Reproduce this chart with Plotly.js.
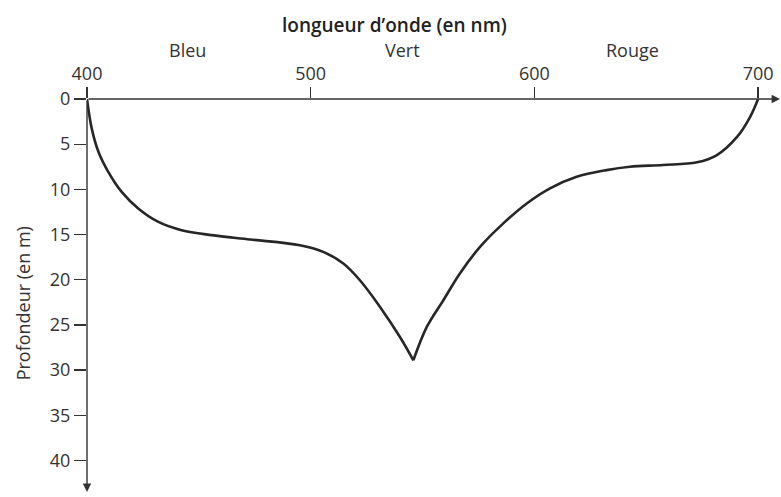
<!DOCTYPE html>
<html>
<head>
<meta charset="utf-8">
<script src="https://cdn.plot.ly/plotly-3.0.1.min.js"></script>
<style>html,body{margin:0;padding:0;background:#fff;}#chart{width:781px;height:497px;}</style>
</head>
<body>
<div id="chart"></div>
<script>
// Wavelength (nm) and depth reached by light (m)
const wavelength = [400, 402.1, 405.1, 409.5, 415.5, 422.9, 431.9, 442.3, 455.7, 472.9, 495.2, 505.6,
                    514.6, 522.0, 531.0, 539.9, 545.9,
                    551.9, 559.3, 566.7, 575.7, 586.1, 596.6, 607.0, 618.9, 632.3, 642.7, 657.5,
                    672.7, 681.6, 690.6, 696.4, 700];
const depth = [0, 3.25, 5.84, 8.06, 10.28, 12.11, 13.60, 14.52, 15.07, 15.55, 16.18, 16.92,
               18.21, 20.06, 23.01, 26.34, 28.92,
               25.23, 22.27, 19.31, 16.37, 13.77, 11.56, 9.89, 8.61, 7.87, 7.5, 7.3,
               7.0, 6.2, 4.2, 2.0, 0];
const xTicks = [400, 500, 600, 700];
const yTicks = [0, 5, 10, 15, 20, 25, 30, 35, 40];
const colourNames = ['Bleu', 'Vert', 'Rouge'];
const colourNameX = [445, 541, 644];

const font = 'Open Sans, Noto Sans, sans-serif';
const ink = '#333333';
const xMax = 709.8, yMax = 43.5;

// split at the deepest point so the cusp stays sharp
const iMin = depth.indexOf(Math.max(...depth));
const lineStyle = {color: '#262626', width: 2.6, shape: 'spline', smoothing: 1};
const traces = [
  {x: wavelength.slice(0, iMin + 1), y: depth.slice(0, iMin + 1)},
  {x: wavelength.slice(iMin), y: depth.slice(iMin)}
].map(t => Object.assign(t, {mode: 'lines', type: 'scatter', line: lineStyle,
  hoverinfo: 'skip', showlegend: false, cliponaxis: false}));

const annotations = [];
// axis arrows
annotations.push({x: xMax, y: 0, ax: 400, ay: 0, xref: 'x', yref: 'y', axref: 'x', ayref: 'y',
  showarrow: true, arrowhead: 2, arrowsize: 1.2, arrowwidth: 1.4, arrowcolor: ink, text: ''});
annotations.push({x: 400, y: yMax, ax: 400, ay: 0, xref: 'x', yref: 'y', axref: 'x', ayref: 'y',
  showarrow: true, arrowhead: 2, arrowsize: 1.2, arrowwidth: 1.4, arrowcolor: ink, text: ''});
// colour names
colourNames.forEach((name, i) => {
  annotations.push({x: colourNameX[i], y: 1, xref: 'x', yref: 'paper', yanchor: 'middle', yshift: 49,
    showarrow: false, text: name, font: {family: font, size: 18, color: ink}});
});
// x-axis title
annotations.push({x: 0.444, y: 1, xref: 'paper', yref: 'paper', yanchor: 'middle', yshift: 74,
  showarrow: false, text: 'longueur d\u2019onde (en nm)',
  font: {family: font, size: 19, color: '#222', weight: 600}});
// y-axis title
annotations.push({x: 0, y: 0.48, xref: 'paper', yref: 'paper', xanchor: 'center', yanchor: 'middle',
  xshift: -64, showarrow: false, textangle: -90, text: 'Profondeur (en m)',
  font: {family: font, size: 18, color: ink}});

const layout = {
  width: 781, height: 497,
  margin: {l: 87, r: 1, t: 99, b: 5, pad: 0},
  paper_bgcolor: '#ffffff', plot_bgcolor: '#ffffff',
  xaxis: {
    side: 'top', range: [400, xMax], tickvals: xTicks, ticktext: xTicks.map(String),
    showgrid: false, zeroline: false, showline: false,
    ticks: 'outside', ticklen: 11, tickwidth: 1.3, tickcolor: ink,
    tickfont: {family: font, size: 18, color: ink}, fixedrange: true
  },
  yaxis: {
    range: [yMax, 0], tickvals: yTicks, ticktext: yTicks.map(String),
    showgrid: false, zeroline: false, showline: false,
    ticks: 'outside', ticklen: 12, tickwidth: 1.3, tickcolor: ink,
    tickfont: {family: font, size: 18, color: ink}, fixedrange: true
  },
  annotations: annotations
};

Plotly.newPlot('chart', traces, layout, {displayModeBar: false, staticPlot: true});
</script>
</body>
</html>
